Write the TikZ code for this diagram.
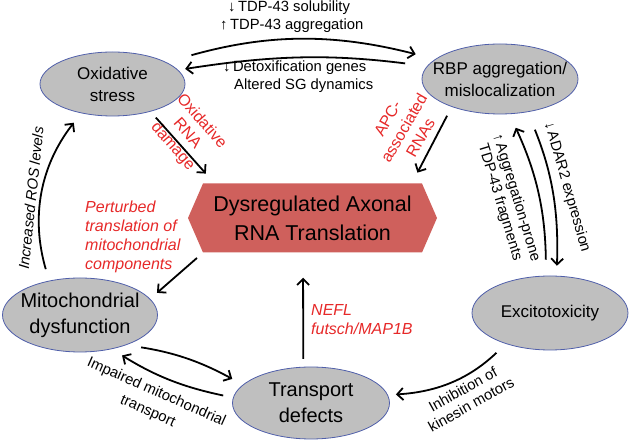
\documentclass[tikz,border=0pt]{standalone}
\usepackage{fontspec}
\setmainfont{Liberation Sans}
\usetikzlibrary{shapes.geometric,shapes.symbols,arrows.meta}
\definecolor{ellfill}{RGB}{191,191,191}
\definecolor{ellline}{RGB}{80,95,170}
\definecolor{hexfill}{RGB}{207,96,92}
\definecolor{redtxt}{RGB}{230,40,40}

\tikzset{
  cause/.style={ellipse,draw=ellline,fill=ellfill,line width=0.8pt,inner sep=0pt},
  small/.style={font=\fontsize{17}{22}\selectfont,align=center,inner sep=0pt},
  big/.style={font=\fontsize{20}{26}\selectfont,align=center,inner sep=0pt},
  hexa/.style={signal,signal to=west and east,signal pointer angle=133,fill=hexfill,draw=none,inner sep=0pt},
  hextxt/.style={font=\fontsize{21.5}{29}\selectfont,align=center,inner sep=0pt},
  arr/.style={line width=1.8pt,-{Straight Barb[length=6pt,width=12pt]}},
  lbl/.style={font=\fontsize{14.8}{17}\selectfont,align=center,inner sep=0pt},
  rlbl/.style={text=redtxt,font=\fontsize{16}{19}\selectfont,align=center,inner sep=0pt},
  ital/.style={font=\fontsize{16}{19}\selectfont\itshape}
}

\begin{document}
\begin{tikzpicture}[x=1pt,y=-1pt]
  \useasboundingbox (0,0) rectangle (630,443);

  % the six boxes
  \node[cause,minimum width=145pt,minimum height=64pt,label={[small]center:Oxidative\\stress}] (ox) at (112.5,84) {};
  \node[cause,minimum width=156pt,minimum height=70pt,label={[small]center:RBP aggregation/\\mislocalization}] (rbp) at (500,79) {};
  \node[hexa,minimum width=249pt,minimum height=69pt,label={[hextxt]center:Dysregulated Axonal\\RNA Translation}] (hex) at (312.5,218) {};
  \node[cause,minimum width=155pt,minimum height=74pt,label={[big]center:Mitochondrial\\dysfunction}] (mito) at (80,315) {};
  \node[cause,minimum width=156pt,minimum height=74pt,label={[small]center:Excitotoxicity}] (exc) at (550,313) {};
  \node[cause,minimum width=157pt,minimum height=72pt,label={[big]center:Transport\\defects}] (trans) at (311,403) {};

  % top
  \node[lbl,anchor=west] (sol) at (228,8) {↓\,TDP-43 solubility};
  \node[lbl,anchor=west] (aggr) at (220,26) {↑\,TDP-43 aggregation};
  \node[lbl,anchor=west] (detox) at (223,68) {↓\,Detoxification genes};
  \node[lbl,anchor=west] (sg) at (234,86) {Altered SG dynamics};
  \draw[arr,shorten <=26pt,shorten >=20pt] (ox.22) to[bend left=15] (rbp.163);
  \draw[arr,shorten <=22pt,shorten >=7pt] (rbp.170) to[bend right=8] (ox.12);

  % into the hexagon
  \node[rlbl,rotate=-49] (oxdam) at (187,134) {Oxidative\\RNA\\damage};
  \draw[arr,shorten <=8pt,shorten >=13pt] (ox.-36) -- ([xshift=-98pt]hex.north);
  \node[rlbl,rotate=60] (apc) at (404,128) {APC-\\associated\\RNAs};
  \draw[arr,shorten <=10pt,shorten >=12pt] (rbp.-150) -- ([xshift=99.4pt]hex.north);
  \node[rlbl,ital,align=left,anchor=west] (pert) at (85,237) {Perturbed\\translation of\\mitochondrial\\components};
  \draw[arr,shorten <=8pt,shorten >=9pt] ([xshift=-109.5pt]hex.south) -- (mito.13);
  \node[rlbl,ital,align=left,anchor=west] (nefl) at (311,320) {NEFL\\futsch/MAP1B};
  \draw[arr,shorten <=8pt,shorten >=25pt] (trans.102) -- ([xshift=-9.5pt]hex.south);

  % round the ring
  \node[lbl,rotate=84,font=\fontsize{14.8}{17}\selectfont\itshape] (ros) at (31,198) {Increased ROS levels};
  \draw[arr,shorten <=12pt,shorten >=12pt] (mito.132) to[bend left=27] (ox.-137);
  \node[lbl,rotate=-24,font=\fontsize{14.8}{21}\selectfont] (impair) at (152,402) {Impaired mitochondrial\\transport};
  \draw[arr,shorten <=15pt,shorten >=12pt] (mito.-33) to[bend left=10] (trans.165);
  \draw[arr,shorten <=10pt,shorten >=12pt] (trans.176) to[bend left=10] (mito.-47);
  \node[lbl,rotate=29] (kines) at (467,397) {Inhibition of\\kinesin motors};
  \draw[arr,shorten <=13pt,shorten >=8pt] (exc.215) to[bend left=20] (trans.6);
  \node[lbl,rotate=-73] (frag) at (508,200) {↑\,Aggregation-prone\\TDP-43 fragments};
  \draw[arr,shorten <=16pt,shorten >=15pt] (exc.96) to[bend right=12] (rbp.-75);
  \node[lbl,rotate=-74] (adar) at (567,187) {↓\,ADAR2 expression};
  \draw[arr,shorten <=19pt,shorten >=10pt] (rbp.-50) to[bend left=12] (exc.80);

\end{tikzpicture}
\end{document}
